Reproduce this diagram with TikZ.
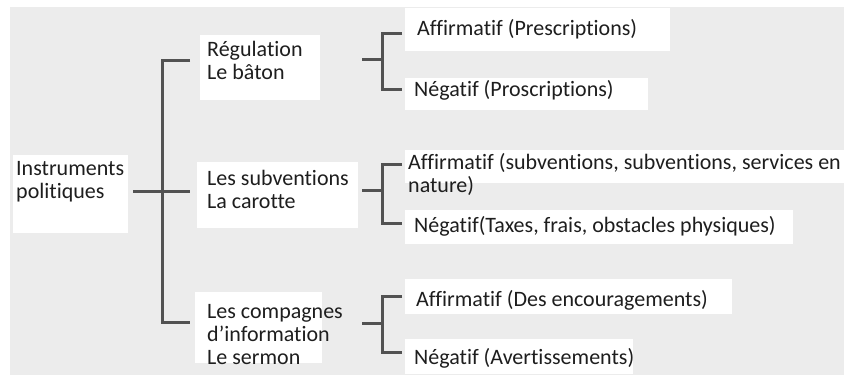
\documentclass[tikz,border=0pt]{standalone}
\usepackage{fontspec}
\setmainfont[Ligatures=NoCommon]{Carlito}
\definecolor{bg}{RGB}{236,236,236}
\definecolor{ink}{RGB}{30,30,30}
\definecolor{wirec}{RGB}{82,82,82}
\begin{document}
\begin{tikzpicture}[x=1pt,y=-1pt,
  label/.style={inner sep=0pt, anchor=west, align=left, text=ink,
    font=\fontsize{22}{23}\selectfont},
  wire/.style={draw=wirec, line width=3pt}]
\useasboundingbox (0,0) rectangle (844,376);
% page ground
\fill[bg] (10,7) rectangle (844,375);
% white panels behind the texts
\fill[white] (13,155) rectangle (128,233);
\fill[white] (200,35) rectangle (320,100);
\fill[white] (197,162) rectangle (358,228);
\fill[white] (195,292) rectangle (322,363);
\fill[white] (405,8) rectangle (670,51);
\fill[white] (405,78) rectangle (648,110);
\fill[white] (405,150) rectangle (844,183);
\fill[white] (405,210) rectangle (793,244);
\fill[white] (405,279) rectangle (732,314);
\fill[white] (405,339) rectangle (633,374);

% texts
\node[label] (root) at (16,181.5) {Instruments\\politiques};
\node[label] (reg)  at (207,60)    {Régulation\\Le bâton};
\node[label] (sub)  at (207,189.5) {Les subventions\\La carotte};
\node[label] (comp) at (207,334.5) {Les compagnes\\d’information\\Le sermon};
\node[label] (a1) at (417,29)    {Affirmatif (Prescriptions)};
\node[label] (n1) at (414,90)    {Négatif (Proscriptions)};
\node[label] (a2) at (408,174.5) {Affirmatif (subventions, subventions, services en\\nature)};
\node[label] (n2) at (414,226)   {Négatif(Taxes, frais, obstacles physiques)};
\node[label] (a3) at (416,300)   {Affirmatif (Des encouragements)};
\node[label] (n3) at (414,358)   {Négatif (Avertissements)};

% main tree: stub, trunk and three branches
\coordinate (rootout) at (133,191);
\coordinate (trunktop) at (162,60);
\coordinate (trunkmid) at (162,191);
\coordinate (trunkbot) at (162,322);
\coordinate (regin)  at (190,60);
\coordinate (subin)  at (190,191);
\coordinate (compin) at (190,322);
\draw[wire] (rootout) -- (subin);
\draw[wire] (regin) -- (trunktop) -- (trunkbot) -- (compin);

% right-hand brackets
\foreach \g/\ym/\yt/\yb in {1/59/33/89, 2/190/164/223, 3/323/296/352}{
  \coordinate (out\g) at (362,\ym);
  \coordinate (mid\g) at (382,\ym);
  \coordinate (top\g) at (382,\yt);
  \coordinate (bot\g) at (382,\yb);
  \coordinate (ta\g) at (402,\yt);
  \coordinate (tb\g) at (402,\yb);
  \draw[wire] (out\g) -- (mid\g);
  \draw[wire] (ta\g) -- (top\g) -- (bot\g) -- (tb\g);
}
\end{tikzpicture}
\end{document}
